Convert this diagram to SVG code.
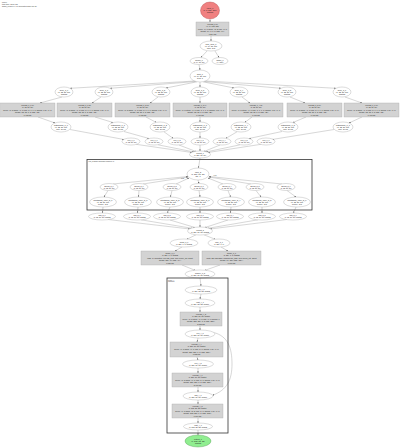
<svg xmlns="http://www.w3.org/2000/svg" width="400" height="448" viewBox="0 0 400 448">
<style>
.t{font-family:"Liberation Sans",Arial,sans-serif;font-size:2px;fill:#222;text-anchor:middle}
.s{font-size:1.8px}
.h{font-family:"Liberation Sans",Arial,sans-serif;font-size:1.8px;fill:#333}
.e{fill:#fff;stroke:#9a9a9a;stroke-width:0.35}
.b{fill:#d3d3d3;stroke:#a6a6a6;stroke-width:0.35}
.c{fill:none;stroke:#333;stroke-width:0.8}
#edges path,#edges line{fill:none;stroke:#8c8c8c;stroke-width:0.35;marker-end:url(#a)}
</style>
<defs>
<marker id="a" viewBox="0 0 4 4" refX="4" refY="2" markerWidth="1.6" markerHeight="1.6" markerUnits="userSpaceOnUse" orient="auto"><path d="M0,0L4,2L0,4z" fill="#555"/></marker>
</defs>
<rect width="400" height="448" fill="#fff"/>
<g id="header">
<text class="h" x="2" y="2.6">profile</text>
<text class="h" x="2" y="4.6">total time: 12.84 ms</text>
<text class="h" x="2" y="6.6">graph_profiler 0.4.2 (generated 2024-05-11)</text>
</g>
<g id="edges">
<line x1="210" y1="19" x2="210" y2="22"/>
<line x1="211" y1="36" x2="211" y2="41"/>
<line x1="207" y1="51" x2="201" y2="57.5"/>
<line x1="215" y1="51" x2="219" y2="57.5"/>
<line x1="199" y1="64.5" x2="200" y2="70"/>
<line x1="195" y1="81" x2="70" y2="88.3"/>
<line x1="196" y1="81.5" x2="110" y2="88.3"/>
<line x1="197" y1="81.8" x2="166" y2="88"/>
<line x1="200" y1="82" x2="200" y2="87"/>
<line x1="203" y1="81.8" x2="234" y2="88"/>
<line x1="204" y1="81.5" x2="281" y2="88.3"/>
<line x1="205" y1="81" x2="336" y2="88.3"/>
<line x1="62" y1="97" x2="40" y2="103"/>
<line x1="101" y1="97" x2="92" y2="103"/>
<line x1="158" y1="97" x2="150" y2="103"/>
<line x1="200" y1="97" x2="200" y2="103"/>
<line x1="242" y1="97" x2="250" y2="103"/>
<line x1="290" y1="97" x2="305" y2="103"/>
<line x1="345" y1="97" x2="362" y2="103"/>
<line x1="38" y1="117" x2="55" y2="123"/>
<line x1="95" y1="117" x2="113" y2="122.5"/>
<line x1="146" y1="117" x2="156" y2="122.3"/>
<line x1="200" y1="117" x2="200" y2="122"/>
<line x1="252" y1="117" x2="245" y2="122.3"/>
<line x1="306" y1="117" x2="293" y2="122.5"/>
<line x1="362" y1="117" x2="349" y2="123"/>
<line x1="70" y1="129.5" x2="124" y2="139.5"/>
<line x1="124" y1="131.5" x2="149" y2="138.5"/>
<line x1="164" y1="131.8" x2="173" y2="138.3"/>
<line x1="200" y1="132" x2="200" y2="138"/>
<line x1="237" y1="131.8" x2="226" y2="138.3"/>
<line x1="282" y1="131.5" x2="249" y2="138.5"/>
<line x1="334" y1="129.5" x2="272" y2="139.5"/>
<line x1="136" y1="144.3" x2="192" y2="152.5"/>
<line x1="158" y1="144.8" x2="194" y2="152"/>
<line x1="179" y1="145" x2="196" y2="151.5"/>
<line x1="200" y1="145" x2="200" y2="151"/>
<line x1="220" y1="145" x2="204" y2="151.5"/>
<line x1="240" y1="144.8" x2="206" y2="152"/>
<line x1="261" y1="144.3" x2="208" y2="152.5"/>
<line x1="200" y1="158" x2="198.5" y2="168"/>
<line x1="113" y1="184" x2="188" y2="176.5"/>
<line x1="143" y1="184" x2="188" y2="177"/>
<line x1="176" y1="184" x2="189" y2="178"/>
<line x1="198" y1="180" x2="199" y2="183.5"/>
<line x1="223" y1="184" x2="208" y2="178"/>
<line x1="251" y1="184" x2="209" y2="177"/>
<line x1="282" y1="184" x2="209" y2="176.5"/>
<line x1="108" y1="190.5" x2="104" y2="197"/>
<line x1="139" y1="190.5" x2="138.5" y2="197"/>
<line x1="172" y1="190.5" x2="170.5" y2="197"/>
<line x1="199" y1="190.5" x2="200" y2="197"/>
<line x1="228" y1="190.5" x2="230.5" y2="197"/>
<line x1="256" y1="190.5" x2="261" y2="197"/>
<line x1="287" y1="190.5" x2="296" y2="197"/>
<line x1="103" y1="207" x2="102.5" y2="213"/>
<line x1="138" y1="207" x2="137.5" y2="213"/>
<line x1="170" y1="207" x2="167.5" y2="213"/>
<line x1="200" y1="207" x2="200" y2="213"/>
<line x1="231" y1="207" x2="230.5" y2="213"/>
<line x1="262" y1="207" x2="262" y2="213"/>
<line x1="296" y1="207" x2="293.5" y2="213"/>
<line x1="108" y1="219.5" x2="190" y2="229"/>
<line x1="141" y1="219.8" x2="192" y2="228.3"/>
<line x1="170" y1="220" x2="195" y2="227.5"/>
<line x1="200" y1="220" x2="200" y2="227"/>
<line x1="228" y1="220" x2="205" y2="227.5"/>
<line x1="258" y1="219.8" x2="208" y2="228.3"/>
<line x1="287" y1="219.5" x2="210" y2="229"/>
<line x1="196" y1="234.8" x2="187" y2="239.2"/>
<line x1="204" y1="234.8" x2="215" y2="239.2"/>
<line x1="182" y1="247" x2="175" y2="251"/>
<line x1="221" y1="247" x2="228" y2="251"/>
<line x1="182" y1="265" x2="195" y2="270.3"/>
<line x1="220" y1="265" x2="205" y2="270.3"/>
<line x1="200" y1="278" x2="201" y2="286"/>
<line x1="201" y1="294" x2="200" y2="299"/>
<line x1="200" y1="307" x2="200" y2="312"/>
<line x1="200" y1="326" x2="200" y2="330"/>
<line x1="198" y1="338" x2="197" y2="342"/>
<line x1="197" y1="357" x2="198" y2="360"/>
<line x1="198" y1="368" x2="198" y2="373"/>
<line x1="198" y1="387" x2="198" y2="392"/>
<line x1="198" y1="400" x2="198" y2="404"/>
<line x1="198" y1="418" x2="198" y2="423"/>
<line x1="198" y1="430" x2="198" y2="435"/>
<path d="M213.5,332.5 C228,336 232,348 232,364 C232,380 227,390 212.5,395.3"/>
</g>
<g id="edge-labels">
<text class="t" x="182.5" y="178.6" style="font-size:1.5px">[0:3]</text>
<text class="t" x="215" y="175.5" style="font-size:1.5px">[4:6]</text>
</g>
<g id="n0"><ellipse cx="210" cy="10.5" rx="9.5" ry="8.5" fill="#f08080" stroke="#b04848" stroke-width="0.4"/><text class="t" x="210" y="9"><tspan x="210">input_0</tspan><tspan x="210" dy="2.2">(1, 3, 224, 224)</tspan><tspan x="210" dy="2.2">float32</tspan></text></g>
<g id="n1"><rect class="b" x="196" y="22" width="33" height="14"/><text class="t s" x="212.5" y="24.5"><tspan x="212.5">conv2d_0 [0]</tspan><tspan x="212.5" dy="2.6">(1, 64, 112, 112)</tspan><tspan x="212.5" dy="2.6">kernel=(7, 7) stride=(2, 2) pad=(3, 3)</tspan><tspan x="212.5" dy="2.6">weight=(64, 3, 7, 7) bias=(64,)</tspan><tspan x="212.5" dy="2.6">1.204 ms</tspan></text></g>
<g id="n2"><ellipse class="e" cx="211" cy="46" rx="11" ry="5"/><text class="t" x="211" y="44.5"><tspan x="211">max_pool_0</tspan><tspan x="211" dy="2.2">(1, 64, 56, 56)</tspan><tspan x="211" dy="2.2">pool=3x3</tspan></text></g>
<g id="n3"><ellipse class="e" cx="199" cy="61" rx="9" ry="3.5"/><text class="t s" x="199" y="60.7"><tspan x="199">identity_0</tspan><tspan x="199" dy="2">(1, 64, 56, 56)</tspan></text></g>
<g id="n4"><ellipse class="e" cx="220" cy="61" rx="8" ry="3.5"/><text class="t s" x="220" y="60.7"><tspan x="220">shape_0</tspan><tspan x="220" dy="2">(4,) int64</tspan></text></g>
<g id="n5"><ellipse class="e" cx="200" cy="76" rx="10" ry="6"/><text class="t" x="200" y="74.5"><tspan x="200">split_0</tspan><tspan x="200" dy="2.2">(1, 64, 56, 56)</tspan><tspan x="200" dy="2.2">axis=1</tspan></text></g>
<g id="r1_0"><ellipse class="e" cx="64" cy="92" rx="9" ry="5"/><text class="t" x="64" y="90.5"><tspan x="64">slice_1_0</tspan><tspan x="64" dy="2.2">(1, 32, 56, 56)</tspan><tspan x="64" dy="2.2">float32</tspan></text></g>
<g id="r1_1"><ellipse class="e" cx="104" cy="92" rx="9" ry="5"/><text class="t" x="104" y="90.5"><tspan x="104">slice_1_1</tspan><tspan x="104" dy="2.2">(1, 32, 56, 56)</tspan><tspan x="104" dy="2.2">float32</tspan></text></g>
<g id="r1_2"><ellipse class="e" cx="161" cy="92" rx="9" ry="5"/><text class="t" x="161" y="90.5"><tspan x="161">slice_1_2</tspan><tspan x="161" dy="2.2">(1, 32, 56, 56)</tspan><tspan x="161" dy="2.2">float32</tspan></text></g>
<g id="r1_3"><ellipse class="e" cx="200" cy="92" rx="9" ry="5"/><text class="t" x="200" y="90.5"><tspan x="200">slice_1_3</tspan><tspan x="200" dy="2.2">(1, 32, 56, 56)</tspan><tspan x="200" dy="2.2">float32</tspan></text></g>
<g id="r1_4"><ellipse class="e" cx="239" cy="92" rx="9" ry="5"/><text class="t" x="239" y="90.5"><tspan x="239">slice_1_4</tspan><tspan x="239" dy="2.2">(1, 32, 56, 56)</tspan><tspan x="239" dy="2.2">float32</tspan></text></g>
<g id="r1_5"><ellipse class="e" cx="287" cy="92" rx="9" ry="5"/><text class="t" x="287" y="90.5"><tspan x="287">slice_1_5</tspan><tspan x="287" dy="2.2">(1, 32, 56, 56)</tspan><tspan x="287" dy="2.2">float32</tspan></text></g>
<g id="r1_6"><ellipse class="e" cx="342" cy="92" rx="9" ry="5"/><text class="t" x="342" y="90.5"><tspan x="342">slice_1_6</tspan><tspan x="342" dy="2.2">(1, 32, 56, 56)</tspan><tspan x="342" dy="2.2">float32</tspan></text></g>
<g id="r2_0"><rect class="b" x="0.5" y="103" width="54.5" height="14"/><text class="t s" x="27.5" y="105.5"><tspan x="27.5">conv2d_1_0 [1]</tspan><tspan x="27.5" dy="2.6">(1, 32, 56, 56)</tspan><tspan x="27.5" dy="2.6">kernel=(3, 3) stride=(1, 1) pad=(1, 1, 1, 1) groups=1 dil=(1, 1)</tspan><tspan x="27.5" dy="2.6">weight=(32, 32, 3, 3) bias=(32,)</tspan><tspan x="27.5" dy="2.6">0.412 ms</tspan></text></g>
<g id="r2_1"><rect class="b" x="57" y="103" width="55" height="14"/><text class="t s" x="84.5" y="105.5"><tspan x="84.5">conv2d_1_1 [2]</tspan><tspan x="84.5" dy="2.6">(1, 32, 56, 56)</tspan><tspan x="84.5" dy="2.6">kernel=(3, 3) stride=(1, 1) pad=(1, 1, 1, 1) groups=1 dil=(1, 1)</tspan><tspan x="84.5" dy="2.6">weight=(32, 32, 3, 3) bias=(32,)</tspan><tspan x="84.5" dy="2.6">0.408 ms</tspan></text></g>
<g id="r2_2"><rect class="b" x="115" y="103" width="55" height="14"/><text class="t s" x="142.5" y="105.5"><tspan x="142.5">conv2d_1_2 [3]</tspan><tspan x="142.5" dy="2.6">(1, 32, 56, 56)</tspan><tspan x="142.5" dy="2.6">kernel=(3, 3) stride=(1, 1) pad=(1, 1, 1, 1) groups=1 dil=(1, 1)</tspan><tspan x="142.5" dy="2.6">weight=(32, 32, 3, 3) bias=(32,)</tspan><tspan x="142.5" dy="2.6">0.415 ms</tspan></text></g>
<g id="r2_3"><rect class="b" x="173" y="103" width="54" height="14"/><text class="t s" x="200" y="105.5"><tspan x="200">conv2d_1_3 [4]</tspan><tspan x="200" dy="2.6">(1, 32, 56, 56)</tspan><tspan x="200" dy="2.6">kernel=(3, 3) stride=(1, 1) pad=(1, 1, 1, 1) groups=1 dil=(1, 1)</tspan><tspan x="200" dy="2.6">weight=(32, 32, 3, 3) bias=(32,)</tspan><tspan x="200" dy="2.6">0.410 ms</tspan></text></g>
<g id="r2_4"><rect class="b" x="229" y="103" width="54" height="14"/><text class="t s" x="256" y="105.5"><tspan x="256">conv2d_1_4 [5]</tspan><tspan x="256" dy="2.6">(1, 32, 56, 56)</tspan><tspan x="256" dy="2.6">kernel=(3, 3) stride=(1, 1) pad=(1, 1, 1, 1) groups=1 dil=(1, 1)</tspan><tspan x="256" dy="2.6">weight=(32, 32, 3, 3) bias=(32,)</tspan><tspan x="256" dy="2.6">0.409 ms</tspan></text></g>
<g id="r2_5"><rect class="b" x="287" y="103" width="55" height="14"/><text class="t s" x="314.5" y="105.5"><tspan x="314.5">conv2d_1_5 [6]</tspan><tspan x="314.5" dy="2.6">(1, 32, 56, 56)</tspan><tspan x="314.5" dy="2.6">kernel=(3, 3) stride=(1, 1) pad=(1, 1, 1, 1) groups=1 dil=(1, 1)</tspan><tspan x="314.5" dy="2.6">weight=(32, 32, 3, 3) bias=(32,)</tspan><tspan x="314.5" dy="2.6">0.411 ms</tspan></text></g>
<g id="r2_6"><rect class="b" x="344" y="103" width="55" height="14"/><text class="t s" x="371.5" y="105.5"><tspan x="371.5">conv2d_1_6 [7]</tspan><tspan x="371.5" dy="2.6">(1, 32, 56, 56)</tspan><tspan x="371.5" dy="2.6">kernel=(3, 3) stride=(1, 1) pad=(1, 1, 1, 1) groups=1 dil=(1, 1)</tspan><tspan x="371.5" dy="2.6">weight=(32, 32, 3, 3) bias=(32,)</tspan><tspan x="371.5" dy="2.6">0.413 ms</tspan></text></g>
<g id="r3_0"><ellipse class="e" cx="61" cy="127" rx="10" ry="5"/><text class="t" x="61" y="125.5"><tspan x="61">batchnorm_1_0</tspan><tspan x="61" dy="2.2">(1, 32, 56, 56)</tspan><tspan x="61" dy="2.2">eps=1e-05</tspan></text></g>
<g id="r3_1"><ellipse class="e" cx="118" cy="127" rx="10" ry="5"/><text class="t" x="118" y="125.5"><tspan x="118">batchnorm_1_1</tspan><tspan x="118" dy="2.2">(1, 32, 56, 56)</tspan><tspan x="118" dy="2.2">eps=1e-05</tspan></text></g>
<g id="r3_2"><ellipse class="e" cx="160" cy="127" rx="10" ry="5"/><text class="t" x="160" y="125.5"><tspan x="160">batchnorm_1_2</tspan><tspan x="160" dy="2.2">(1, 32, 56, 56)</tspan><tspan x="160" dy="2.2">eps=1e-05</tspan></text></g>
<g id="r3_3"><ellipse class="e" cx="200" cy="127" rx="10" ry="5"/><text class="t" x="200" y="125.5"><tspan x="200">batchnorm_1_3</tspan><tspan x="200" dy="2.2">(1, 32, 56, 56)</tspan><tspan x="200" dy="2.2">eps=1e-05</tspan></text></g>
<g id="r3_4"><ellipse class="e" cx="241" cy="127" rx="10" ry="5"/><text class="t" x="241" y="125.5"><tspan x="241">batchnorm_1_4</tspan><tspan x="241" dy="2.2">(1, 32, 56, 56)</tspan><tspan x="241" dy="2.2">eps=1e-05</tspan></text></g>
<g id="r3_5"><ellipse class="e" cx="288" cy="127" rx="10" ry="5"/><text class="t" x="288" y="125.5"><tspan x="288">batchnorm_1_5</tspan><tspan x="288" dy="2.2">(1, 32, 56, 56)</tspan><tspan x="288" dy="2.2">eps=1e-05</tspan></text></g>
<g id="r3_6"><ellipse class="e" cx="343" cy="127" rx="10" ry="5"/><text class="t" x="343" y="125.5"><tspan x="343">batchnorm_1_6</tspan><tspan x="343" dy="2.2">(1, 32, 56, 56)</tspan><tspan x="343" dy="2.2">eps=1e-05</tspan></text></g>
<g id="r4_0"><ellipse class="e" cx="131" cy="141.5" rx="9" ry="3.5"/><text class="t s" x="131" y="141.2"><tspan x="131">relu_1_0</tspan><tspan x="131" dy="2">(1, 32, 56, 56)</tspan></text></g>
<g id="r4_1"><ellipse class="e" cx="154" cy="141.5" rx="9" ry="3.5"/><text class="t s" x="154" y="141.2"><tspan x="154">relu_1_1</tspan><tspan x="154" dy="2">(1, 32, 56, 56)</tspan></text></g>
<g id="r4_2"><ellipse class="e" cx="177" cy="141.5" rx="9" ry="3.5"/><text class="t s" x="177" y="141.2"><tspan x="177">relu_1_2</tspan><tspan x="177" dy="2">(1, 32, 56, 56)</tspan></text></g>
<g id="r4_3"><ellipse class="e" cx="200" cy="141.5" rx="9" ry="3.5"/><text class="t s" x="200" y="141.2"><tspan x="200">relu_1_3</tspan><tspan x="200" dy="2">(1, 32, 56, 56)</tspan></text></g>
<g id="r4_4"><ellipse class="e" cx="222" cy="141.5" rx="9" ry="3.5"/><text class="t s" x="222" y="141.2"><tspan x="222">relu_1_4</tspan><tspan x="222" dy="2">(1, 32, 56, 56)</tspan></text></g>
<g id="r4_5"><ellipse class="e" cx="244" cy="141.5" rx="9" ry="3.5"/><text class="t s" x="244" y="141.2"><tspan x="244">relu_1_5</tspan><tspan x="244" dy="2">(1, 32, 56, 56)</tspan></text></g>
<g id="r4_6"><ellipse class="e" cx="266" cy="141.5" rx="9" ry="3.5"/><text class="t s" x="266" y="141.2"><tspan x="266">relu_1_6</tspan><tspan x="266" dy="2">(1, 32, 56, 56)</tspan></text></g>
<g id="concat_1"><ellipse class="e" cx="200" cy="154.5" rx="10.5" ry="3.5"/><text class="t s" x="200" y="154.2"><tspan x="200">concat_1</tspan><tspan x="200" dy="2">(1, 224, 56, 56)</tspan></text></g>
<g id="cluster_loop"><rect class="c" x="87" y="159.5" width="225" height="50.5"/><text class="h" x="88.5" y="162.3" style="font-size:1.5px">loop_2  parallel depthwise branches (7)</text></g>
<g id="loop_2"><ellipse class="e" cx="198" cy="174" rx="11" ry="6"/><text class="t" x="198" y="172.5"><tspan x="198">loop_2</tspan><tspan x="198" dy="2.2">(1, 224, 56, 56)</tspan><tspan x="198" dy="2.2">iter=7</tspan></text></g>
<g id="b_0"><ellipse class="e" cx="109" cy="187" rx="9" ry="3.5"/><text class="t s" x="109" y="186.7"><tspan x="109">Below_2_0</tspan><tspan x="109" dy="2">(1, 32, 56, 56)</tspan></text></g>
<g id="b_1"><ellipse class="e" cx="139" cy="187" rx="9" ry="3.5"/><text class="t s" x="139" y="186.7"><tspan x="139">Below_2_1</tspan><tspan x="139" dy="2">(1, 32, 56, 56)</tspan></text></g>
<g id="b_2"><ellipse class="e" cx="172" cy="187" rx="9" ry="3.5"/><text class="t s" x="172" y="186.7"><tspan x="172">Below_2_2</tspan><tspan x="172" dy="2">(1, 32, 56, 56)</tspan></text></g>
<g id="b_3"><ellipse class="e" cx="199" cy="187" rx="9" ry="3.5"/><text class="t s" x="199" y="186.7"><tspan x="199">Below_2_3</tspan><tspan x="199" dy="2">(1, 32, 56, 56)</tspan></text></g>
<g id="b_4"><ellipse class="e" cx="227" cy="187" rx="9" ry="3.5"/><text class="t s" x="227" y="186.7"><tspan x="227">Below_2_4</tspan><tspan x="227" dy="2">(1, 32, 56, 56)</tspan></text></g>
<g id="b_5"><ellipse class="e" cx="255" cy="187" rx="9" ry="3.5"/><text class="t s" x="255" y="186.7"><tspan x="255">Below_2_5</tspan><tspan x="255" dy="2">(1, 32, 56, 56)</tspan></text></g>
<g id="b_6"><ellipse class="e" cx="286" cy="187" rx="9" ry="3.5"/><text class="t s" x="286" y="186.7"><tspan x="286">Below_2_6</tspan><tspan x="286" dy="2">(1, 32, 56, 56)</tspan></text></g>
<g id="d_0"><ellipse class="e" cx="103" cy="202" rx="13.5" ry="5"/><text class="t" x="103" y="200.5"><tspan x="103">depthwise_conv_2_0</tspan><tspan x="103" dy="2.2">(1, 32, 56, 56)</tspan><tspan x="103" dy="2.2">kernel=3x3</tspan></text></g>
<g id="d_1"><ellipse class="e" cx="138" cy="202" rx="13.5" ry="5"/><text class="t" x="138" y="200.5"><tspan x="138">depthwise_conv_2_1</tspan><tspan x="138" dy="2.2">(1, 32, 56, 56)</tspan><tspan x="138" dy="2.2">kernel=3x3</tspan></text></g>
<g id="d_2"><ellipse class="e" cx="170" cy="202" rx="13.5" ry="5"/><text class="t" x="170" y="200.5"><tspan x="170">depthwise_conv_2_2</tspan><tspan x="170" dy="2.2">(1, 32, 56, 56)</tspan><tspan x="170" dy="2.2">kernel=3x3</tspan></text></g>
<g id="d_3"><ellipse class="e" cx="200" cy="202" rx="13.5" ry="5"/><text class="t" x="200" y="200.5"><tspan x="200">depthwise_conv_2_3</tspan><tspan x="200" dy="2.2">(1, 32, 56, 56)</tspan><tspan x="200" dy="2.2">kernel=3x3</tspan></text></g>
<g id="d_4"><ellipse class="e" cx="231" cy="202" rx="13.5" ry="5"/><text class="t" x="231" y="200.5"><tspan x="231">depthwise_conv_2_4</tspan><tspan x="231" dy="2.2">(1, 32, 56, 56)</tspan><tspan x="231" dy="2.2">kernel=3x3</tspan></text></g>
<g id="d_5"><ellipse class="e" cx="262" cy="202" rx="13.5" ry="5"/><text class="t" x="262" y="200.5"><tspan x="262">depthwise_conv_2_5</tspan><tspan x="262" dy="2.2">(1, 32, 56, 56)</tspan><tspan x="262" dy="2.2">kernel=3x3</tspan></text></g>
<g id="d_6"><ellipse class="e" cx="297" cy="202" rx="13.5" ry="5"/><text class="t" x="297" y="200.5"><tspan x="297">depthwise_conv_2_6</tspan><tspan x="297" dy="2.2">(1, 32, 56, 56)</tspan><tspan x="297" dy="2.2">kernel=3x3</tspan></text></g>
<g id="o_0"><ellipse class="e" cx="102" cy="216.5" rx="13.5" ry="3.5"/><text class="t s" x="102" y="216.2"><tspan x="102">add_2_0</tspan><tspan x="102" dy="2">(1, 32, 56, 56) float32</tspan></text></g>
<g id="o_1"><ellipse class="e" cx="137" cy="216.5" rx="13.5" ry="3.5"/><text class="t s" x="137" y="216.2"><tspan x="137">add_2_1</tspan><tspan x="137" dy="2">(1, 32, 56, 56) float32</tspan></text></g>
<g id="o_2"><ellipse class="e" cx="167" cy="216.5" rx="13.5" ry="3.5"/><text class="t s" x="167" y="216.2"><tspan x="167">add_2_2</tspan><tspan x="167" dy="2">(1, 32, 56, 56) float32</tspan></text></g>
<g id="o_3"><ellipse class="e" cx="200" cy="216.5" rx="13.5" ry="3.5"/><text class="t s" x="200" y="216.2"><tspan x="200">add_2_3</tspan><tspan x="200" dy="2">(1, 32, 56, 56) float32</tspan></text></g>
<g id="o_4"><ellipse class="e" cx="230" cy="216.5" rx="13.5" ry="3.5"/><text class="t s" x="230" y="216.2"><tspan x="230">add_2_4</tspan><tspan x="230" dy="2">(1, 32, 56, 56) float32</tspan></text></g>
<g id="o_5"><ellipse class="e" cx="262" cy="216.5" rx="13.5" ry="3.5"/><text class="t s" x="262" y="216.2"><tspan x="262">add_2_5</tspan><tspan x="262" dy="2">(1, 32, 56, 56) float32</tspan></text></g>
<g id="o_6"><ellipse class="e" cx="293" cy="216.5" rx="13.5" ry="3.5"/><text class="t s" x="293" y="216.2"><tspan x="293">add_2_6</tspan><tspan x="293" dy="2">(1, 32, 56, 56) float32</tspan></text></g>
<g id="concat_2"><ellipse class="e" cx="200" cy="231" rx="12.5" ry="4"/><text class="t s" x="200" y="230.7"><tspan x="200">concat_2</tspan><tspan x="200" dy="2">(1, 224, 56, 56) float32</tspan></text></g>
<g id="mean_3"><ellipse class="e" cx="184" cy="243" rx="14" ry="4"/><text class="t s" x="184" y="242.7"><tspan x="184">mean_3_0</tspan><tspan x="184" dy="2">(1, 224, 1, 1) float32</tspan></text></g>
<g id="max_3"><ellipse class="e" cx="219" cy="243" rx="11" ry="4"/><text class="t s" x="219" y="242.7"><tspan x="219">max_3_1</tspan><tspan x="219" dy="2">(1, 224, 1, 1)</tspan></text></g>
<g id="dense_3_0"><rect class="b" x="141" y="251" width="58" height="14"/><text class="t s" x="170" y="253.5"><tspan x="170">dense_3_0</tspan><tspan x="170" dy="2.6">(1, 224, 1, 1) float32</tspan><tspan x="170" dy="2.6">units=14 activation=relu use_bias=True kernel_init=glorot</tspan><tspan x="170" dy="2.6">weight=(224, 14) bias=(14,)</tspan><tspan x="170" dy="2.6">0.021 ms</tspan></text></g>
<g id="dense_3_1"><rect class="b" x="202" y="251" width="59" height="14"/><text class="t s" x="231.5" y="253.5"><tspan x="231.5">dense_3_1</tspan><tspan x="231.5" dy="2.6">(1, 224, 1, 1) float32</tspan><tspan x="231.5" dy="2.6">units=224 activation=sigmoid use_bias=True kernel_init=glorot</tspan><tspan x="231.5" dy="2.6">weight=(14, 224) bias=(224,)</tspan><tspan x="231.5" dy="2.6">0.019 ms</tspan></text></g>
<g id="multiply_3"><ellipse class="e" cx="200" cy="274" rx="15" ry="4"/><text class="t s" x="200" y="273.7"><tspan x="200">multiply_3_2</tspan><tspan x="200" dy="2">(1, 224, 56, 56) float32</tspan></text></g>
<g id="cluster_seq"><rect class="c" x="167" y="278" width="61" height="155"/><text class="h" x="168" y="280.5" style="font-size:1.5px"><tspan x="168">cluster_4</tspan><tspan x="168" dy="1.8">sequence</tspan></text></g>
<g id="s_0"><ellipse class="e" cx="201" cy="290" rx="16" ry="4"/><text class="t s" x="201" y="289.7"><tspan x="201">pad_4_0</tspan><tspan x="201" dy="2">(1, 224, 58, 58) float32</tspan></text></g>
<g id="s_1"><ellipse class="e" cx="200" cy="303" rx="15" ry="4"/><text class="t s" x="200" y="302.7"><tspan x="200">cast_4_1</tspan><tspan x="200" dy="2">(1, 224, 58, 58) float16</tspan></text></g>
<g id="s_2"><rect class="b" x="180" y="312" width="42" height="14"/><text class="t s" x="201" y="314.5"><tspan x="201">conv2d_4_2</tspan><tspan x="201" dy="2.6">(1, 256, 56, 56) float16</tspan><tspan x="201" dy="2.6">kernel=(3, 3) stride=(1, 1) pad=(0, 0) groups=1</tspan><tspan x="201" dy="2.6">weight=(256, 224, 3, 3) bias=(256,)</tspan><tspan x="201" dy="2.6">2.315 ms</tspan></text></g>
<g id="s_3"><ellipse class="e" cx="200" cy="334" rx="15" ry="4"/><text class="t s" x="200" y="333.7"><tspan x="200">relu_4_3</tspan><tspan x="200" dy="2">(1, 256, 56, 56) float16</tspan></text></g>
<g id="s_4"><rect class="b" x="170" y="342" width="53" height="15"/><text class="t s" x="196.5" y="344.7"><tspan x="196.5">conv2d_4_4</tspan><tspan x="196.5" dy="2.6">(1, 256, 56, 56) float16</tspan><tspan x="196.5" dy="2.6">kernel=(1, 1) stride=(1, 1) pad=(0, 0) groups=1 dil=(1, 1)</tspan><tspan x="196.5" dy="2.6">weight=(256, 256, 1, 1) bias=(256,)</tspan><tspan x="196.5" dy="2.6">1.082 ms</tspan></text></g>
<g id="s_5"><ellipse class="e" cx="198" cy="364" rx="15.5" ry="4"/><text class="t s" x="198" y="363.7"><tspan x="198">relu_4_5</tspan><tspan x="198" dy="2">(1, 256, 56, 56) float16</tspan></text></g>
<g id="s_6"><rect class="b" x="172" y="373" width="51" height="14"/><text class="t s" x="197.5" y="375.5"><tspan x="197.5">conv2d_4_6</tspan><tspan x="197.5" dy="2.6">(1, 256, 56, 56) float16</tspan><tspan x="197.5" dy="2.6">kernel=(3, 3) stride=(1, 1) pad=(1, 1) groups=1 dil=(1, 1)</tspan><tspan x="197.5" dy="2.6">weight=(256, 256, 3, 3) bias=(256,)</tspan><tspan x="197.5" dy="2.6">2.407 ms</tspan></text></g>
<g id="s_7"><ellipse class="e" cx="198" cy="396" rx="15" ry="4"/><text class="t s" x="198" y="395.7"><tspan x="198">add_4_7</tspan><tspan x="198" dy="2">(1, 256, 56, 56) float16</tspan></text></g>
<g id="s_8"><rect class="b" x="172" y="404" width="51" height="14"/><text class="t s" x="197.5" y="406.5"><tspan x="197.5">conv2d_4_8</tspan><tspan x="197.5" dy="2.6">(1, 512, 28, 28) float16</tspan><tspan x="197.5" dy="2.6">kernel=(1, 1) stride=(2, 2) pad=(0, 0) groups=1 dil=(1, 1)</tspan><tspan x="197.5" dy="2.6">weight=(512, 256, 1, 1) bias=(512,)</tspan><tspan x="197.5" dy="2.6">0.734 ms</tspan></text></g>
<g id="s_9"><ellipse class="e" cx="198" cy="426.5" rx="14.5" ry="3.5"/><text class="t s" x="198" y="426.2"><tspan x="198">cast_4_9</tspan><tspan x="198" dy="2">(1, 512, 28, 28) float32</tspan></text></g>
<g id="output"><ellipse cx="198" cy="441" rx="13" ry="6" fill="#90ee90" stroke="#5a9a5a" stroke-width="0.4"/><text class="t" x="198" y="439.5"><tspan x="198">output_0</tspan><tspan x="198" dy="2.2">(1, 512, 28, 28)</tspan><tspan x="198" dy="2.2">float32</tspan></text></g>
</svg>
